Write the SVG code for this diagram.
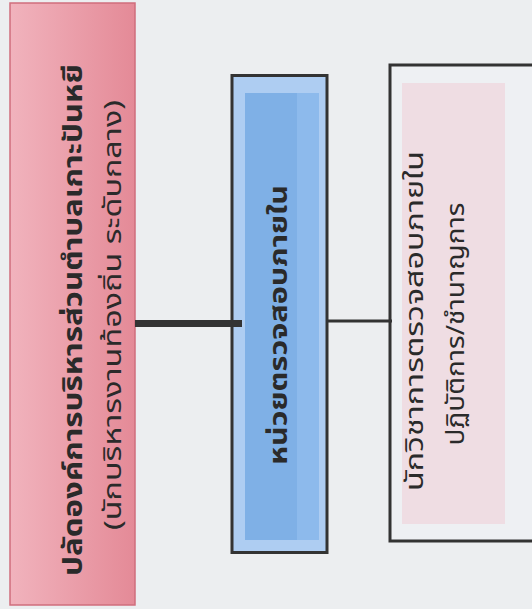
<svg xmlns="http://www.w3.org/2000/svg" width="532" height="609" viewBox="0 0 532 609">
<defs>
<linearGradient id="pinkG" x1="0" y1="0" x2="1" y2="0">
<stop offset="0" stop-color="#f1b3bd"/>
<stop offset="1" stop-color="#e48a97"/>
</linearGradient>
<style>
.t{font-family:"Noto Sans Thai","Noto Sans","DejaVu Sans",sans-serif;fill:#2a2a2a;text-anchor:middle;dominant-baseline:central}
.frame{fill:none;stroke:#333;stroke-width:3}
</style>
</defs>
<rect width="532" height="609" fill="#eceef0"/>
<g id="node-chief">
<rect x="10" y="3" width="125" height="602" fill="url(#pinkG)" stroke="#cf6e7c" stroke-width="1.5"/>
<text class="t" transform="translate(74,320) rotate(-90)" font-size="26" font-weight="bold" textLength="512" lengthAdjust="spacingAndGlyphs">ปลัดองค์การบริหารส่วนตำบลเกาะปันหยี</text>
<text class="t" transform="translate(114,315) rotate(-90)" font-size="24" textLength="430" lengthAdjust="spacingAndGlyphs">(นักบริหารงานท้องถิ่น ระดับกลาง)</text>
</g>
<g id="node-audit-unit">
<rect x="232" y="75.5" width="95" height="477" fill="#aecdf2"/>
<rect x="245" y="93" width="52" height="447" fill="#7fb0e6"/>
<rect x="297" y="93" width="22" height="447" fill="#8dbaec"/>
<rect x="232" y="75.5" width="95" height="477" class="frame"/>
<text class="t" transform="translate(279,325) rotate(-90)" font-size="25" font-weight="bold" textLength="280" lengthAdjust="spacingAndGlyphs">หน่วยตรวจสอบภายใน</text>
</g>
<g id="node-auditor">
<rect x="390" y="65" width="150" height="476" fill="#eef0f3"/>
<rect x="402" y="83" width="103" height="441" fill="#efdde3"/>
<rect x="390" y="65" width="150" height="476" class="frame"/>
<text class="t" transform="translate(415,321) rotate(-90)" font-size="25" textLength="340" lengthAdjust="spacingAndGlyphs">นักวิชาการตรวจสอบภายใน</text>
<text class="t" transform="translate(456,324) rotate(-90)" font-size="25" textLength="243" lengthAdjust="spacingAndGlyphs">ปฏิบัติการ/ชำนาญการ</text>
</g>
<g id="connectors">
<line x1="135" y1="323.5" x2="242" y2="323.5" stroke="#333" stroke-width="7"/>
<line x1="327" y1="321" x2="392" y2="321" stroke="#333" stroke-width="3"/>
</g>
</svg>
